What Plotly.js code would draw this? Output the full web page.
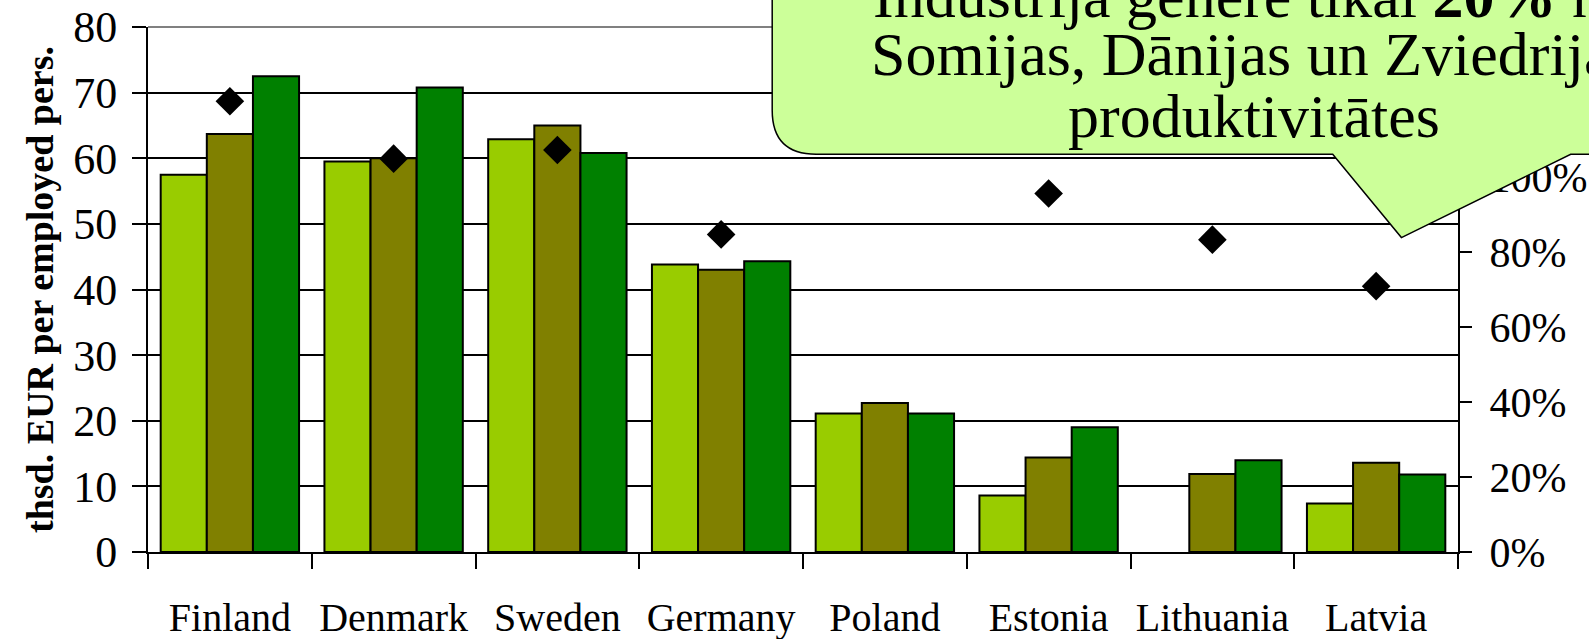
<!DOCTYPE html>
<html>
<head>
<meta charset="utf-8">
<script src="https://cdn.plot.ly/plotly-3.0.1.min.js"></script>
<style>
html,body{margin:0;padding:0;background:#fff;}
#chart{width:1589px;height:639px;}
</style>
</head>
<body>
<div id="chart"></div>
<script>
// ---- data ----
const categories = ['Finland', 'Denmark', 'Sweden', 'Germany', 'Poland', 'Estonia', 'Lithuania', 'Latvia'];
const seriesA = [57.5, 59.5, 62.9, 43.8, 21.1, 8.6, null, 7.4];
const seriesB = [63.7, 60.0, 65.0, 43.0, 22.7, 14.4, 11.9, 13.6];
const seriesC = [72.5, 70.8, 60.8, 44.3, 21.1, 19.0, 14.0, 11.8];
const ratio = [1.202, 1.049, 1.072, 0.847, null, 0.956, 0.833, 0.709];
const calloutLines = [
  'Industrija ģenerē tikai <b>20%</b> no',
  'Somijas, Dānijas un Zviedrijas',
  'produktivitātes'
];
const yTitle = '<b>thsd. EUR per employed pers.</b>';

// ---- layout geometry ----
const FW = 1589, FH = 639;
const PL = 148.3, PR = 1458.3, PT = 26.7, PB = 551.7;
const PW = PR - PL, PH = PB - PT;
const px = v => (v - PL) / PW;
const py = v => (PB - v) / PH;
const FONT = 'Liberation Serif, Times New Roman, serif';

const barLine = {color: '#000000', width: 2};
const traces = [
  {type: 'bar', name: 'Series 1', x: categories, y: seriesA, marker: {color: '#99CC00', line: barLine}},
  {type: 'bar', name: 'Series 2', x: categories, y: seriesB, marker: {color: '#808000', line: barLine}},
  {type: 'bar', name: 'Series 3', x: categories, y: seriesC, marker: {color: '#008000', line: barLine}},
  {type: 'scatter', mode: 'markers', name: 'Ratio', x: categories, y: ratio, yaxis: 'y2',
   marker: {symbol: 'diamond', size: 22, color: '#000000', line: {width: 0}}}
];

// callout path (speech bubble) in paper coordinates
const r = 44;
const bx0 = 772.5, byb = 154, bx1 = 1800, byt = -120;
const path = [
  'M', px(bx0), py(byt),
  'L', px(bx0), py(byb - r),
  'Q', px(bx0), py(byb), px(bx0 + r), py(byb),
  'L', px(1333), py(byb),
  'L', px(1401.7), py(237.3),
  'L', px(1571), py(byb),
  'L', px(bx1), py(byb),
  'L', px(bx1), py(byt),
  'Z'
].join(' ');

const shapes = [
  {type: 'line', xref: 'paper', yref: 'paper', x0: 0, x1: 1, y0: 1, y1: 1,
   line: {color: '#808080', width: 2}, layer: 'above'},
  {type: 'path', xref: 'paper', yref: 'paper', path: path,
   fillcolor: '#CCFF99', line: {color: '#000000', width: 1.5}, layer: 'above'}
];

const textCenterX = 1254;
const baselines = [16, 74, 136];
const cfs = 62;
const annotations = calloutLines.map((t, i) => ({
  xref: 'paper', yref: 'paper',
  x: px(textCenterX), y: py(baselines[i] - 0.33 * cfs),
  xanchor: 'center', yanchor: 'middle',
  text: t, showarrow: false,
  font: {family: FONT, size: cfs, color: '#000000'}
}));

const layout = {
  width: FW, height: FH,
  margin: {l: PL, r: FW - PR, t: PT, b: FH - PB, pad: 0},
  paper_bgcolor: '#ffffff', plot_bgcolor: '#ffffff',
  showlegend: false,
  barmode: 'group', bargap: 0.155, bargroupgap: 0,
  font: {family: FONT, color: '#000000'},
  xaxis: {
    type: 'category', tickson: 'boundaries',
    ticks: 'outside', ticklen: 15, tickwidth: 2, tickcolor: '#000000',
    showline: true, linecolor: '#000000', linewidth: 2,
    showgrid: false, zeroline: false,
    tickfont: {family: FONT, size: 40, color: '#000000'},
    ticklabelstandoff: 29
  },
  yaxis: {
    range: [0, 80], dtick: 10, tick0: 0,
    ticks: 'outside', ticklen: 14, tickwidth: 2, tickcolor: '#000000',
    showline: true, linecolor: '#000000', linewidth: 2,
    showgrid: true, gridcolor: '#000000', gridwidth: 2, zeroline: false,
    tickfont: {family: FONT, size: 44, color: '#000000'},
    ticklabelstandoff: 6,
    title: {text: yTitle, font: {family: FONT, size: 38, color: '#000000'}, standoff: 8}
  },
  yaxis2: {
    overlaying: 'y', side: 'right', range: [0, 1.4], dtick: 0.2, tick0: 0,
    tickformat: '.0%',
    ticks: 'outside', ticklen: 12, tickwidth: 2, tickcolor: '#000000',
    showline: true, linecolor: '#000000', linewidth: 2,
    showgrid: false, zeroline: false,
    tickfont: {family: FONT, size: 42, color: '#000000'},
    ticklabelstandoff: 9
  },
  shapes: shapes,
  annotations: annotations
};

Plotly.newPlot('chart', traces, layout, {displayModeBar: false, staticPlot: true});
</script>
</body>
</html>
